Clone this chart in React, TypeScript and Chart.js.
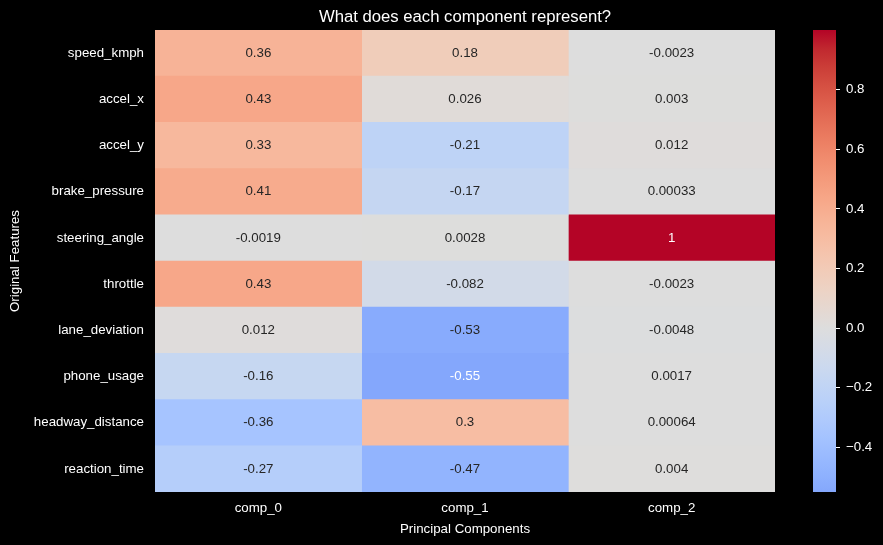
import React, { useEffect, useRef } from "react";
import { Chart, registerables } from "chart.js";

Chart.register(...registerables);

const features = [
  "speed_kmph",
  "accel_x",
  "accel_y",
  "brake_pressure",
  "steering_angle",
  "throttle",
  "lane_deviation",
  "phone_usage",
  "headway_distance",
  "reaction_time",
];
const components = ["comp_0", "comp_1", "comp_2"];
const comp0 = [0.36, 0.43, 0.33, 0.41, -0.0019, 0.43, 0.012, -0.16, -0.36, -0.27];
const comp1 = [0.18, 0.026, -0.21, -0.17, 0.0028, -0.082, -0.53, -0.55, 0.3, -0.47];
const comp2 = [-0.0023, 0.003, 0.012, 0.00033, 1, -0.0023, -0.0048, 0.0017, 0.00064, 0.004];
const colorbarTicks = [-0.4, -0.2, 0.0, 0.2, 0.4, 0.6, 0.8];
const vmin = -0.55;
const vmax = 1.0;
const titleText = "What does each component represent?";

// coolwarm colormap stops (Moreland)
const coolwarm: number[][] = [
  [59, 76, 192], [68, 90, 204], [77, 104, 215], [87, 117, 225], [98, 130, 234],
  [108, 142, 241], [119, 154, 247], [130, 165, 251], [141, 176, 254], [152, 185, 255],
  [163, 194, 255], [174, 201, 253], [184, 208, 249], [194, 213, 244], [204, 217, 238],
  [213, 219, 230], [221, 221, 221], [229, 216, 209], [236, 211, 197], [241, 204, 185],
  [245, 196, 173], [247, 187, 160], [247, 177, 148], [247, 166, 135], [244, 154, 123],
  [241, 141, 111], [236, 127, 99], [229, 112, 88], [222, 96, 77], [213, 80, 66],
  [203, 62, 56], [192, 40, 47], [180, 4, 38],
];

function cmapRGB(t: number): number[] {
  const tt = Math.max(0, Math.min(1, t)) * (coolwarm.length - 1);
  const i = Math.min(coolwarm.length - 2, Math.floor(tt));
  const f = tt - i;
  const a = coolwarm[i];
  const b = coolwarm[i + 1];
  return [0, 1, 2].map((k) => a[k] + (b[k] - a[k]) * f);
}
// seaborn center=0: range symmetric
const vrange = Math.max(vmax, -vmin);
function valueRGB(v: number): number[] {
  return cmapRGB((v + vrange) / (2 * vrange));
}
function rgbStr(c: number[]) {
  return `rgb(${Math.round(c[0])},${Math.round(c[1])},${Math.round(c[2])})`;
}
function textColor(v: number) {
  const c = valueRGB(v).map((x) => {
    const s = x / 255;
    return s <= 0.03928 ? s / 12.92 : Math.pow((s + 0.055) / 1.055, 2.4);
  });
  const l = 0.2126 * c[0] + 0.7152 * c[1] + 0.0722 * c[2];
  return l > 0.408 ? "#262626" : "#ffffff";
}
function fmt(v: number) {
  return String(Number(v.toPrecision(2)));
}

const FONT = "'Liberation Sans', Arial, sans-serif";
const values = [comp0, comp1, comp2];

export default function App() {
  const ref1 = useRef<HTMLCanvasElement>(null);
  const ref2 = useRef<HTMLCanvasElement>(null);

  useEffect(() => {
    document.body.style.margin = "0";
    document.body.style.background = "#000";

    const annot = {
      id: "annot",
      afterDatasetsDraw(chart: any) {
        const ctx = chart.ctx;
        ctx.save();
        ctx.font = `13.3px ${FONT}`;
        ctx.textAlign = "center";
        ctx.textBaseline = "middle";
        values.forEach((vals, di) => {
          const meta = chart.getDatasetMeta(di);
          meta.data.forEach((el: any, j: number) => {
            const p = el.getProps(["x", "y", "base"], true);
            const cx = (p.x + p.base) / 2;
            ctx.fillStyle = textColor(vals[j]);
            ctx.fillText(fmt(vals[j]), cx, p.y);
          });
        });
        ctx.restore();
      },
    };

    const titlePlugin = {
      id: "centerTitle",
      afterDraw(chart: any) {
        const ctx = chart.ctx;
        const a = chart.chartArea;
        ctx.save();
        ctx.font = `16.7px ${FONT}`;
        ctx.fillStyle = "#ffffff";
        ctx.textAlign = "center";
        ctx.textBaseline = "alphabetic";
        ctx.fillText(titleText, (a.left + a.right) / 2, 22);
        ctx.restore();
      },
    };

    const c1 = new Chart(ref1.current!, {
      type: "bar",
      data: {
        labels: features,
        datasets: values.map((vals, i) => ({
          label: components[i],
          data: vals.map(() => 1),
          backgroundColor: vals.map((v) => rgbStr(valueRGB(v))),
          borderWidth: 0,
          barPercentage: 1,
          categoryPercentage: 1,
        })),
      },
      options: {
        indexAxis: "y",
        responsive: false,
        animation: false,
        events: [],
        layout: { padding: { left: 0, right: 108, top: 30, bottom: 0 } },
        plugins: {
          legend: { display: false },
          tooltip: { enabled: false },
          title: { display: false },
        },
        scales: {
          x: {
            type: "linear",
            min: 0,
            max: 3,
            stacked: true,
            grid: { display: false, drawTicks: false },
            border: { display: false },
            afterBuildTicks: (s: any) => {
              s.ticks = components.map((_, i) => ({ value: i + 0.5 }));
            },
            afterFit: (s: any) => {
              s.height = 53;
            },
            ticks: {
              color: "#ffffff",
              font: { family: FONT, size: 13.3 },
              padding: 8,
              maxRotation: 0,
              callback: (_v: any, i: number) => components[i],
            },
            title: {
              display: true,
              text: "Principal Components",
              color: "#ffffff",
              font: { family: FONT, size: 13.3 },
              padding: { top: 0, bottom: 8 },
            },
          },
          y: {
            type: "category",
            stacked: true,
            grid: { display: false, drawTicks: false },
            border: { display: false },
            afterFit: (s: any) => {
              s.width = 155;
            },
            ticks: {
              color: "#ffffff",
              font: { family: FONT, size: 13.3 },
              padding: 11,
            },
            title: {
              display: true,
              text: "Original Features",
              color: "#ffffff",
              font: { family: FONT, size: 13.3 },
              padding: { top: 7, bottom: 0 },
            },
          },
        },
      },
      plugins: [annot, titlePlugin],
    } as any);

    const c2 = new Chart(ref2.current!, {
      type: "bar",
      data: {
        labels: ["colorbar"],
        datasets: [
          {
            data: [[vmin, vmax]],
            borderWidth: 0,
            barPercentage: 1,
            categoryPercentage: 1,
            backgroundColor: (ctx: any) => {
              const chart = ctx.chart;
              const area = chart.chartArea;
              if (!area) return "#ddd";
              const ys = chart.scales.y;
              const g = chart.ctx.createLinearGradient(0, ys.getPixelForValue(vmin), 0, ys.getPixelForValue(vmax));
              const span = vmax - vmin;
              g.addColorStop(0, rgbStr(valueRGB(vmin)));
              for (let k = 0; k < coolwarm.length; k++) {
                const v = (k / (coolwarm.length - 1)) * 2 * vrange - vrange;
                if (v > vmin && v < vmax) g.addColorStop((v - vmin) / span, rgbStr(coolwarm[k]));
              }
              g.addColorStop(1, rgbStr(valueRGB(vmax)));
              return g;
            },
          },
        ],
      },
      options: {
        responsive: false,
        animation: false,
        events: [],
        layout: { padding: { left: 813, right: 0, top: 30, bottom: 53 } },
        plugins: { legend: { display: false }, tooltip: { enabled: false } },
        scales: {
          x: { display: false },
          y: {
            type: "linear",
            position: "right",
            min: vmin,
            max: vmax,
            border: { display: false },
            grid: { drawOnChartArea: false, drawTicks: true, tickLength: 4, color: "#ffffff" },
            afterBuildTicks: (s: any) => {
              s.ticks = colorbarTicks.map((v) => ({ value: v }));
            },
            afterFit: (s: any) => {
              s.width = 47;
            },
            ticks: {
              color: "#ffffff",
              font: { family: FONT, size: 13.3 },
              padding: 6,
              callback: (v: any) => {
                const n = Number(v);
                if (Math.abs(n) < 1e-9) return "0.0";
                return (n < 0 ? "\u2212" : "") + Math.abs(n).toFixed(1);
              },
            },
          },
        },
      },
    } as any);

    return () => {
      c1.destroy();
      c2.destroy();
    };
  }, []);

  return (
    <div style={{ position: "relative", width: 883, height: 545, background: "#000" }}>
      <canvas ref={ref1} width={883} height={545} style={{ position: "absolute", left: 0, top: 0 }} />
      <canvas ref={ref2} width={883} height={545} style={{ position: "absolute", left: 0, top: 0 }} />
    </div>
  );
}
